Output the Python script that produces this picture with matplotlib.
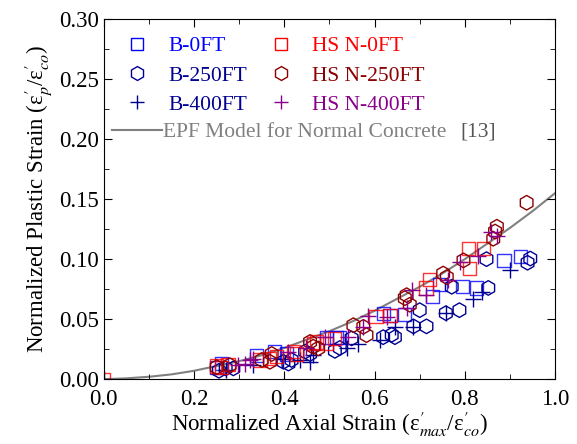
import numpy as np
import matplotlib
matplotlib.use('Agg')
import matplotlib.pyplot as plt
from matplotlib.lines import Line2D
from matplotlib.ticker import MultipleLocator, FormatStrFormatter

plt.rcParams['font.family'] = ['Liberation Serif', 'DejaVu Serif']
plt.rcParams['mathtext.fontset'] = 'stix'

# B-0FT (blue squares)
b0_x = [0.25, 0.26, 0.339, 0.379, 0.405, 0.494, 0.516, 0.523, 0.619, 0.634, 0.667,
        0.729, 0.745, 0.795, 0.826, 0.887, 0.924]
b0_y = [0.010, 0.013, 0.020, 0.023, 0.021, 0.035, 0.035, 0.035, 0.055, 0.053, 0.054,
        0.069, 0.079, 0.0775, 0.076, 0.099, 0.102]

# B-250FT (navy hexagons)
b250_x = [0.255, 0.27, 0.287, 0.398, 0.416, 0.409, 0.446, 0.457, 0.512, 0.523, 0.549,
          0.619, 0.645, 0.638, 0.686, 0.715, 0.70, 0.758, 0.788, 0.771, 0.848, 0.852,
          0.945, 0.939]
b250_y = [0.007, 0.009, 0.009, 0.0145, 0.016, 0.013, 0.023, 0.021, 0.0236, 0.026, 0.034,
          0.035, 0.035, 0.037, 0.044, 0.044, 0.0575, 0.055, 0.0575, 0.077, 0.100, 0.076,
          0.1005, 0.097]

# B-400FT (navy plus)
b400_x = [0.27, 0.331, 0.398, 0.435, 0.457, 0.464, 0.538, 0.564, 0.612, 0.645, 0.686,
          0.758, 0.819, 0.837, 0.899]
b400_y = [0.008, 0.0117, 0.017, 0.016, 0.014, 0.020, 0.0256, 0.0297, 0.033, 0.0436, 0.0436,
          0.055, 0.067, 0.073, 0.091]

# HS N-0FT (red squares)
h0_x = [0.0, 0.25, 0.26, 0.275, 0.346, 0.368, 0.383, 0.42, 0.427, 0.464, 0.471, 0.494,
        0.512, 0.603, 0.634, 0.714, 0.721, 0.808, 0.841, 0.811]
h0_y = [0.0, 0.011, 0.010, 0.012, 0.016, 0.017, 0.0186, 0.023, 0.021, 0.030, 0.031, 0.0297,
        0.034, 0.0525, 0.053, 0.076, 0.083, 0.109, 0.109, 0.092]

# HS N-250FT (dark red hexagons)
h250_x = [0.25, 0.279, 0.35, 0.368, 0.372, 0.457, 0.464, 0.475, 0.553, 0.575, 0.582,
          0.667, 0.671, 0.678, 0.752, 0.76, 0.797, 0.863, 0.867, 0.871, 0.937]
h250_y = [0.010, 0.0117, 0.016, 0.0145, 0.021, 0.031, 0.027, 0.0256, 0.045, 0.0436, 0.0367,
          0.0675, 0.070, 0.062, 0.088, 0.085, 0.099, 0.117, 0.123, 0.127, 0.147]

# HS N-400FT (purple plus)
h400_x = [0.0, 0.298, 0.313, 0.324, 0.331, 0.409, 0.449, 0.49, 0.542, 0.575, 0.586,
          0.627, 0.671, 0.682, 0.715, 0.763, 0.789, 0.83, 0.859, 0.871]
h400_y = [0.0, 0.0117, 0.013, 0.016, 0.017, 0.023, 0.0256, 0.035, 0.035, 0.0436, 0.053,
          0.052, 0.059, 0.074, 0.070, 0.0825, 0.098, 0.103, 0.123, 0.119]

# EPF model curve
epf_x = [0.0, 0.05, 0.1, 0.15, 0.2, 0.25, 0.3, 0.35, 0.4, 0.45, 0.5,
         0.55, 0.6, 0.65, 0.7, 0.75, 0.8, 0.85, 0.9, 0.95, 1.0]
epf_y = [0.0, 0.0007, 0.002, 0.004, 0.007, 0.011, 0.015, 0.020, 0.026, 0.033, 0.040,
         0.048, 0.057, 0.067, 0.077, 0.088, 0.100, 0.113, 0.126, 0.140, 0.155]

BLUE = '#0000ff'
NAVY = '#000090'
RED = '#ff0000'
DRED = '#8b0000'
PURP = '#8b008b'
GRAY = '#808080'

fig = plt.figure(figsize=(5.77, 4.44), dpi=100)
ax = fig.add_axes([0.180, 0.146, 0.782, 0.811])

ax.plot(epf_x, epf_y, color=GRAY, lw=1.5, zorder=1)

ms = 90
ax.scatter(b0_x, b0_y, s=ms, marker='s', facecolors='none', edgecolors=BLUE, linewidths=1, alpha=0.8)
ax.scatter(b250_x, b250_y, s=ms + 20, marker='h', facecolors='none', edgecolors=NAVY, linewidths=1)
ax.scatter(b400_x, b400_y, s=ms + 30, marker='+', color=NAVY, linewidths=1)
ax.scatter(h0_x, h0_y, s=ms, marker='s', facecolors='none', edgecolors=RED, linewidths=1, alpha=0.8)
ax.scatter(h250_x, h250_y, s=ms + 20, marker='h', facecolors='none', edgecolors=DRED, linewidths=1)
ax.scatter(h400_x, h400_y, s=ms + 30, marker='+', color=PURP, linewidths=1)

ax.set_xlim(0, 1.0)
ax.set_ylim(0, 0.30)
ax.xaxis.set_major_locator(MultipleLocator(0.2))
ax.xaxis.set_minor_locator(MultipleLocator(0.1))
ax.yaxis.set_major_locator(MultipleLocator(0.05))
ax.yaxis.set_minor_locator(MultipleLocator(0.025))
ax.xaxis.set_major_formatter(FormatStrFormatter('%.1f'))
ax.yaxis.set_major_formatter(FormatStrFormatter('%.2f'))
ax.tick_params(which='both', direction='in', top=True, right=True, labelsize=16.5)
ax.tick_params(which='major', length=6)
ax.tick_params(which='minor', length=3.5)
ax.tick_params(axis='x', pad=7)

ax.set_xlabel('Normalized Axial Strain (ε$^{\\prime}_{max}$/ε$^{\\prime}_{co}$)', fontsize=16.5, labelpad=0)
ax.set_ylabel('Normalized Plastic Strain (ε$^{\\prime}_{p}$/ε$^{\\prime}_{co}$)', fontsize=16.5, labelpad=4)

handles = [
    Line2D([], [], ls='none', marker='s', ms=9, mfc='none', mec=BLUE),
    Line2D([], [], ls='none', marker='h', ms=10, mfc='none', mec=NAVY),
    Line2D([], [], ls='none', marker='+', ms=10, color=NAVY),
    Line2D([], [], ls='none', marker='s', ms=9, mfc='none', mec=RED),
    Line2D([], [], ls='none', marker='h', ms=10, mfc='none', mec=DRED),
    Line2D([], [], ls='none', marker='+', ms=10, color=PURP),
]
labels = ['B-0FT', 'B-250FT', 'B-400FT', 'HS N-0FT', 'HS N-250FT', 'HS N-400FT']
tcolors = [BLUE, NAVY, NAVY, RED, DRED, PURP]
leg = ax.legend(handles, labels, ncol=2, loc='upper left', bbox_to_anchor=(0.018, 0.976),
                frameon=False, fontsize=15.5, handlelength=1.5, handletextpad=0.72,
                columnspacing=0.8, labelspacing=0.42, borderaxespad=0.0)
for t, c in zip(leg.get_texts(), tcolors):
    t.set_color(c)
ax.add_artist(leg)

leg2 = ax.legend([Line2D([], [], color=GRAY, lw=1.5)], ['EPF Model for Normal Concrete'],
                 loc='upper left', bbox_to_anchor=(-0.001, 0.737), frameon=False,
                 fontsize=15.5, handlelength=2.3, handletextpad=0.05, borderaxespad=0.0)
leg2.get_texts()[0].set_color(GRAY)
ax.text(0.79, 0.687, '[13]', transform=ax.transAxes, fontsize=15.5, color='#555555', va='center')

fig.savefig('out.png', dpi=100)
